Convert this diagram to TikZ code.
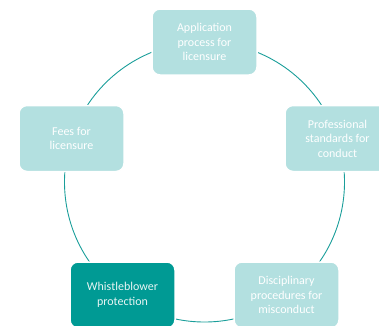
\documentclass[tikz,border=0pt]{standalone}
\usepackage{fontspec}
\setmainfont{Carlito}
\definecolor{lightteal}{HTML}{B3E0E0}
\definecolor{darkteal}{HTML}{009A94}
\definecolor{lineteal}{HTML}{1A9E9A}
\definecolor{darktext}{HTML}{E8F5F4}
\tikzset{
  box/.style={rectangle, rounded corners=8pt, minimum width=105pt, minimum height=66pt,
    fill=lightteal, draw=white, line width=1.5pt, text=white, align=center,
    font=\fontsize{12pt}{14.5pt}\selectfont, inner sep=2pt},
  darkbox/.style={box, fill=darkteal, text=darktext},
  ring/.style={draw=lineteal, line width=0.9pt}
}
\begin{document}
\begin{tikzpicture}[x=1pt,y=1pt]
\useasboundingbox (0,0) rectangle (379,325);
\clip (0,0) rectangle (379,325);
\coordinate (c) at (204.5,143);
\draw[ring] (c) circle (140);
\node[box] (app) at (204.5,283) {Application\\process for\\licensure};
\node[box] (prof) at (337.5,186.5) {Professional\\standards for\\conduct};
\node[box] (disc) at (286.5,30) {Disciplinary\\procedures for\\misconduct};
\node[darkbox] (whis) at (122.5,30) {Whistleblower\\protection};
\node[box] (fees) at (71.5,186.5) {Fees for\\licensure};
\end{tikzpicture}
\end{document}
